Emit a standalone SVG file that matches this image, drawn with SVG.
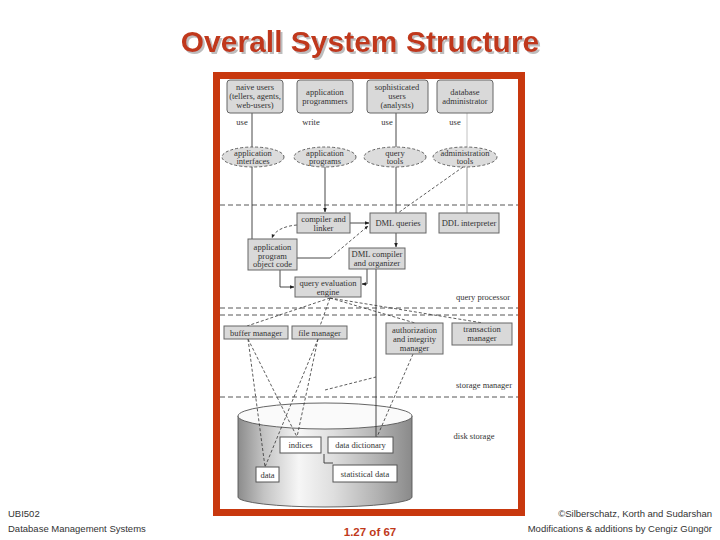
<svg xmlns="http://www.w3.org/2000/svg" width="720" height="540" viewBox="0 0 720 540">
<style>
.t{font-family:"Liberation Serif","DejaVu Serif",serif;font-size:8.5px;fill:#333;text-anchor:middle}
.lb{font-family:"Liberation Serif","DejaVu Serif",serif;font-size:8.5px;fill:#333;text-anchor:middle}
.box{fill:#d9d9d9;stroke:#666;stroke-width:1}
.wbox{fill:#fff;stroke:#555;stroke-width:1}
.ell{fill:#dcdcdc;stroke:#555;stroke-width:0.9;stroke-dasharray:3,2}
.ln{fill:none;stroke:#333;stroke-width:0.9}
.dl{fill:none;stroke:#333;stroke-width:0.8;stroke-dasharray:3,2}
.sep{fill:none;stroke:#444;stroke-width:0.9;stroke-dasharray:5,3}
.ft{font-family:"Liberation Sans",Arial,sans-serif;font-size:9.5px;fill:#333}
</style>
<defs>
<marker id="ah" viewBox="0 0 10 10" refX="9" refY="5" markerWidth="5" markerHeight="5" orient="auto-start-reverse">
<path d="M0,1 L10,5 L0,9 z" fill="#222"/>
</marker>
<linearGradient id="cyl" x1="0" y1="0" x2="1" y2="0">
<stop offset="0" stop-color="#8c8c8c"/>
<stop offset="0.15" stop-color="#c4c4c4"/>
<stop offset="0.35" stop-color="#f6f6f6"/>
<stop offset="0.55" stop-color="#dedede"/>
<stop offset="0.8" stop-color="#b2b2b2"/>
<stop offset="1" stop-color="#8a8a8a"/>
</linearGradient>
<filter id="shadow" x="-5%" y="-20%" width="110%" height="140%">
<feOffset in="SourceAlpha" dx="2" dy="2" result="off"/>
<feFlood flood-color="#bdbdbd"/>
<feComposite in2="off" operator="in" result="sh"/>
<feMerge><feMergeNode in="sh"/><feMergeNode in="SourceGraphic"/></feMerge>
</filter>
</defs>
<rect width="720" height="540" fill="#fff"/>
<g id="title">
<text x="360" y="52" font-family="Liberation Sans,Arial,sans-serif" font-size="30" font-weight="bold" fill="#c0391b" text-anchor="middle" filter="url(#shadow)">Overall System Structure</text>
</g>
<rect id="frame" x="216.5" y="75.5" width="305" height="437" fill="#fff" stroke="#c8380e" stroke-width="7"/>
<g id="disk">
<path d="M238,416 L238,497 A87,10 0 0 0 412,497 L412,416 Z" fill="url(#cyl)" stroke="#555" stroke-width="0.9"/>
<ellipse cx="325" cy="416" rx="87" ry="13" fill="#fafafa" stroke="#555" stroke-width="0.9"/>
</g>
<g id="separators">
<line class="sep" x1="220" y1="205" x2="518" y2="205"/>
<line class="sep" x1="220" y1="308" x2="518" y2="308"/>
<line class="sep" x1="220" y1="315" x2="518" y2="315"/>
<line class="sep" x1="220" y1="397" x2="518" y2="397"/>
<text class="lb" x="483" y="300">query processor</text>
<text class="lb" x="484" y="388">storage manager</text>
<text class="lb" x="474" y="439">disk storage</text>
</g>
<g id="connectors">
<line class="ln" x1="252" y1="113" x2="252" y2="147"/>
<line class="ln" x1="396" y1="113" x2="396" y2="147"/>
<line x1="467" y1="113" x2="467" y2="147" stroke="#bbb" stroke-width="0.9"/>
<text class="lb" x="242" y="125">use</text>
<text class="lb" x="311" y="125">write</text>
<text class="lb" x="387" y="125">use</text>
<text class="lb" x="455" y="125">use</text>
<line class="ln" x1="252" y1="167" x2="252" y2="239"/>
<line class="ln" x1="325" y1="167" x2="325" y2="212" marker-end="url(#ah)"/>
<line class="ln" x1="396" y1="167" x2="396" y2="213"/>
<line x1="467" y1="167" x2="467" y2="213" stroke="#888" stroke-width="0.9"/>
<line class="dl" x1="463" y1="167" x2="398" y2="213"/>
<line class="ln" x1="350" y1="223" x2="369" y2="223" marker-end="url(#ah)"/>
<path class="dl" d="M297,225 C285,226 275,230 272,238" marker-end="url(#ah)"/>
<polyline class="ln" points="297,258 330,258"/>
<line class="dl" x1="330" y1="258" x2="368" y2="226" marker-end="url(#ah)"/>
<line class="ln" x1="396" y1="233" x2="396" y2="247" marker-end="url(#ah)"/>
<polyline class="ln" points="280,270 280,287 294,287" marker-end="url(#ah)"/>
<polyline class="ln" points="367,269 367,284 362,284" marker-end="url(#ah)"/>
<line class="ln" x1="376" y1="269" x2="376" y2="437"/>
<line class="dl" x1="330" y1="298" x2="247" y2="326"/>
<line class="dl" x1="330" y1="298" x2="320" y2="326"/>
<line class="dl" x1="330" y1="298" x2="415" y2="323"/>
<line class="dl" x1="330" y1="298" x2="483" y2="323"/>
<line class="dl" x1="248" y1="339" x2="265" y2="467"/>
<line class="dl" x1="248" y1="339" x2="297" y2="437"/>
<line class="dl" x1="318" y1="339" x2="265" y2="467"/>
<line class="dl" x1="318" y1="339" x2="297" y2="437"/>
<line class="dl" x1="325" y1="390" x2="376" y2="377"/>
<line class="dl" x1="413" y1="354" x2="377" y2="437"/>
<polyline class="ln" points="324,454 324,463 333,463"/>
</g>
<g id="naive-users"><rect class="box" x="227" y="80" width="56" height="33" rx="3"/><text class="t" x="255" y="90">naive users</text><text class="t" x="255" y="99">(tellers, agents,</text><text class="t" x="255" y="108">web-users)</text></g>
<g id="application-programmers"><rect class="box" x="297" y="80" width="56" height="33" rx="3"/><text class="t" x="325" y="95">application</text><text class="t" x="325" y="104">programmers</text></g>
<g id="sophisticated-users"><rect class="box" x="367" y="80" width="61" height="33" rx="3"/><text class="t" x="397" y="90">sophisticated</text><text class="t" x="397" y="99">users</text><text class="t" x="397" y="108">(analysts)</text></g>
<g id="database-administrator"><rect class="box" x="437" y="80" width="56" height="33" rx="3"/><text class="t" x="465" y="95">database</text><text class="t" x="465" y="104">administrator</text></g>
<g id="application-interfaces"><ellipse class="ell" cx="253" cy="157" rx="31" ry="10"/><text class="t" x="253" y="155.5">application</text><text class="t" x="253" y="164">interfaces</text></g>
<g id="application-programs"><ellipse class="ell" cx="325" cy="157" rx="31" ry="10"/><text class="t" x="325" y="155.5">application</text><text class="t" x="325" y="164">programs</text></g>
<g id="query-tools"><ellipse class="ell" cx="395" cy="157" rx="31" ry="10"/><text class="t" x="395" y="155.5">query</text><text class="t" x="395" y="164">tools</text></g>
<g id="administration-tools"><ellipse class="ell" cx="465" cy="157" rx="32" ry="10"/><text class="t" x="465" y="155.5">administration</text><text class="t" x="465" y="164">tools</text></g>
<g id="compiler-linker"><rect class="box" x="297" y="213" width="53" height="20"/><text class="t" x="323.5" y="222">compiler and</text><text class="t" x="323.5" y="231">linker</text></g>
<g id="dml-queries"><rect class="box" x="370" y="213" width="56" height="20"/><text class="t" x="398" y="226">DML queries</text></g>
<g id="ddl-interpreter"><rect class="box" x="439" y="213" width="60" height="20"/><text class="t" x="469" y="226">DDL interpreter</text></g>
<g id="object-code"><rect class="box" x="248" y="239" width="49" height="31"/><text class="t" x="272.5" y="250">application</text><text class="t" x="272.5" y="258.5">program</text><text class="t" x="272.5" y="267">object code</text></g>
<g id="dml-compiler"><rect class="box" x="349" y="248" width="56" height="21"/><text class="t" x="377" y="256.5">DML compiler</text><text class="t" x="377" y="265.5">and organizer</text></g>
<g id="query-evaluation-engine"><rect class="box" x="295" y="277" width="66" height="20"/><text class="t" x="328" y="285.5">query evaluation</text><text class="t" x="328" y="294.5">engine</text></g>
<g id="buffer-manager"><rect class="box" x="224" y="326" width="64" height="13"/><text class="t" x="256" y="335.5">buffer manager</text></g>
<g id="file-manager"><rect class="box" x="292" y="326" width="55" height="13"/><text class="t" x="319.5" y="335.5">file manager</text></g>
<g id="authorization-manager"><rect class="box" x="386" y="323" width="57" height="31"/><text class="t" x="414.5" y="332.5">authorization</text><text class="t" x="414.5" y="341.5">and integrity</text><text class="t" x="414.5" y="350.5">manager</text></g>
<g id="transaction-manager"><rect class="box" x="452" y="323" width="60" height="22"/><text class="t" x="482" y="332">transaction</text><text class="t" x="482" y="341">manager</text></g>
<g id="indices"><rect class="wbox" x="280" y="437" width="41" height="16"/><text class="t" x="300.5" y="448">indices</text></g>
<g id="data-dictionary"><rect class="wbox" x="328" y="437" width="65" height="16"/><text class="t" x="360.5" y="448">data dictionary</text></g>
<g id="data"><rect class="wbox" x="256" y="467" width="23" height="15"/><text class="t" x="267.5" y="477.5">data</text></g>
<g id="statistical-data"><rect class="wbox" x="333" y="465" width="64" height="17"/><text class="t" x="365" y="476.5">statistical data</text></g>
<g id="footer">
<text class="ft" x="8" y="517">UBI502</text>
<text class="ft" x="8" y="532">Database Management Systems</text>
<text x="370" y="536" font-family="Liberation Sans,Arial,sans-serif" font-size="11.5" font-weight="bold" fill="#c0391b" text-anchor="middle">1.27 of 67</text>
<text class="ft" x="712" y="517" text-anchor="end">©Silberschatz, Korth and Sudarshan</text>
<text class="ft" x="712" y="532" text-anchor="end">Modifications &amp; additions by Cengiz Güngör</text>
</g>
</svg>
